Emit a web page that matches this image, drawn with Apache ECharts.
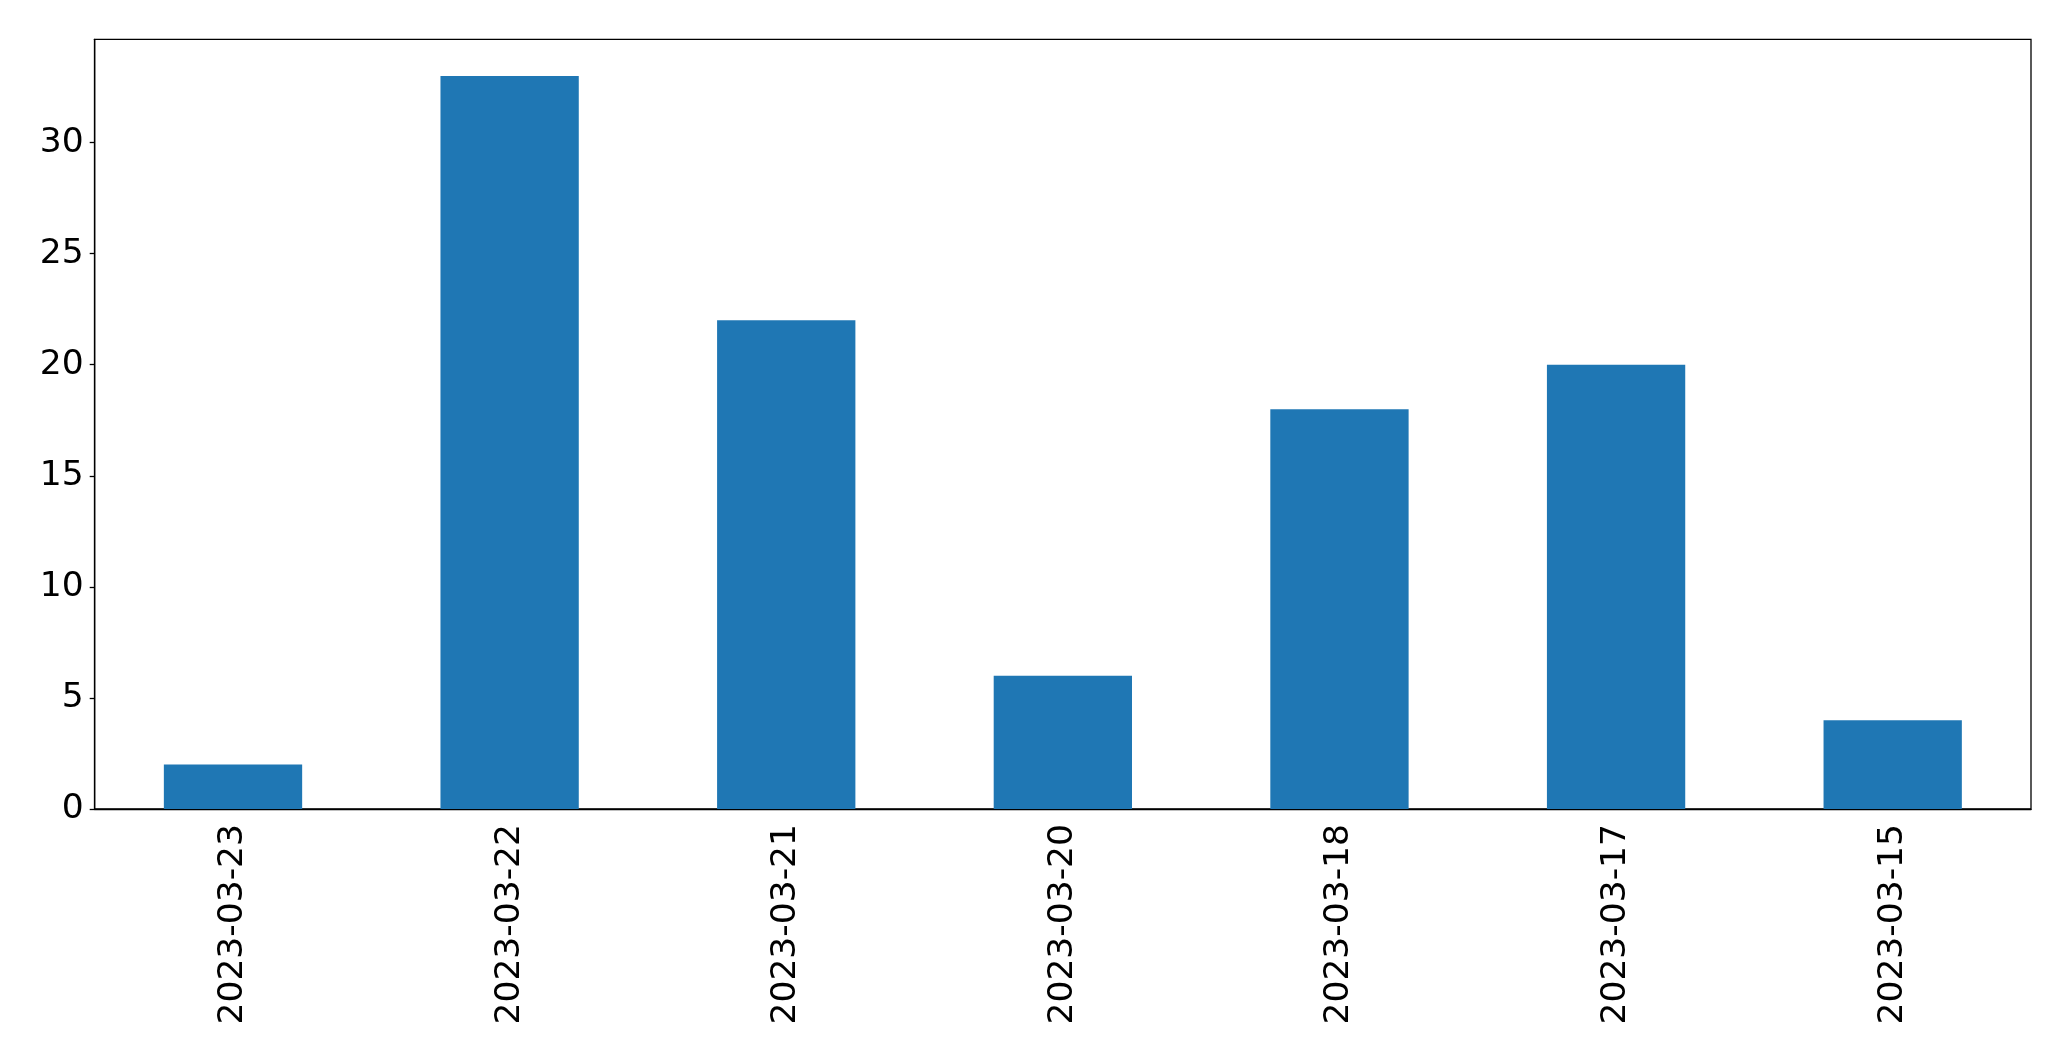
<!DOCTYPE html>
<html><head><meta charset="utf-8">
<script src="https://cdn.jsdelivr.net/npm/echarts@6/dist/echarts.min.js"></script>
<style>html,body{margin:0;padding:0;background:#fff}#c{width:2071px;height:1061px}</style>
</head><body><div id="c"></div>
<script>
const categories = ['2023-03-23','2023-03-22','2023-03-21','2023-03-20','2023-03-18','2023-03-17','2023-03-15'];
const values = [2, 33, 22, 6, 18, 20, 4];
const yTicks = [0, 5, 10, 15, 20, 25, 30];

const chart = echarts.init(document.getElementById('c'));
chart.setOption({
  animation: false,
  backgroundColor: '#fff',
  grid: {left: 94.7, top: 39.3, right: 40, bottom: 252, show: true, borderColor: '#000', borderWidth: 1.3, containLabel: false},
  xAxis: {
    type: 'category', data: categories,
    axisLine: {lineStyle: {color: '#000', width: 1.3}},
    axisTick: {alignWithLabel: true, length: 5, lineStyle: {color: '#000', width: 1.3}},
    axisLabel: {rotate: 90, color: '#000', fontFamily: 'DejaVu Sans', fontSize: 34.5, margin: 15}
  },
  yAxis: {
    type: 'value', min: 0, max: 34.65, interval: 5,
    splitLine: {show: false},
    axisLine: {show: true, lineStyle: {color: '#000', width: 1.3}},
    axisTick: {show: true, length: 5, lineStyle: {color: '#000', width: 1.3}},
    axisLabel: {color: '#000', fontFamily: 'DejaVu Sans', fontSize: 34.5, margin: 11, showMaxLabel: false,
      formatter: v => yTicks.includes(v) ? String(v) : ''}
  },
  series: [{type: 'bar', data: values, barWidth: '50%', itemStyle: {color: '#1f77b4'}}]
});
</script></body></html>
